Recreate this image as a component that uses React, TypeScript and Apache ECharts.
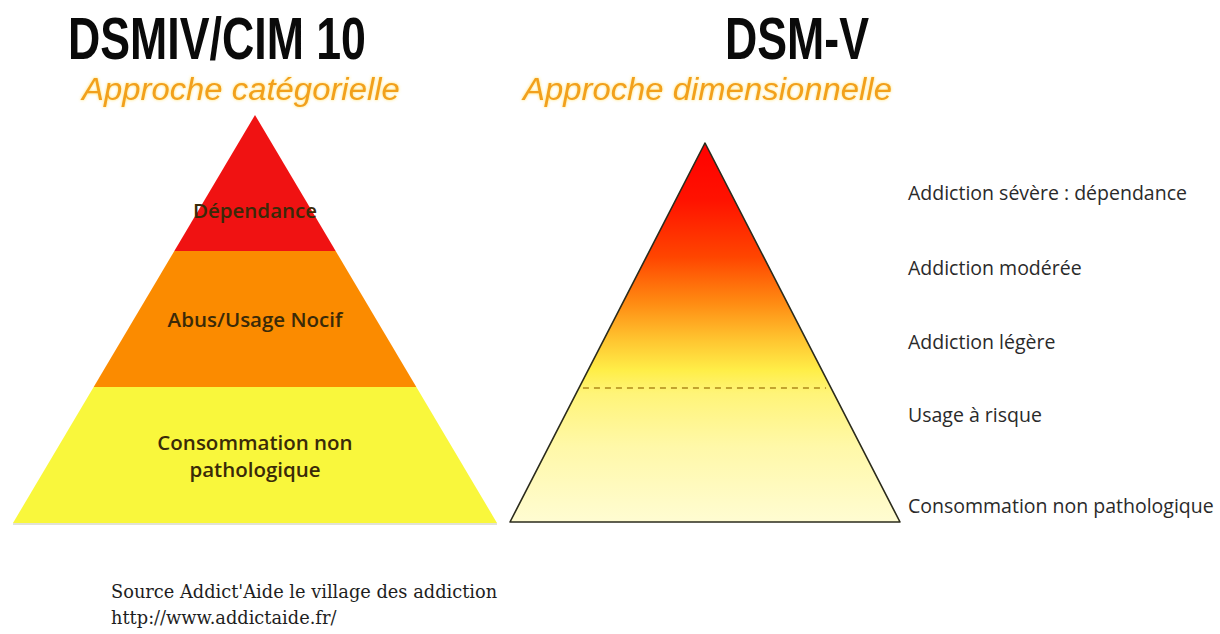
import React, { useEffect, useRef } from "react";
import * as echarts from "echarts";

// ---- data ----
const titles = ["DSMIV/CIM 10", "DSM-V"];
const subtitles = ["Approche catégorielle", "Approche dimensionnelle"];
const leftLevels = ["Dépendance", "Abus/Usage Nocif", "Consommation non\npathologique"];
const leftRanks = [1, 2, 3];
const leftColors = ["#f01212", "#fb8b00", "#f9f73c"];
const rightLevels = [
  "Addiction sévère : dépendance",
  "Addiction modérée",
  "Addiction légère",
  "Usage à risque",
  "Consommation non pathologique",
];
const rightRanks = [1];
const sourceLines = ["Source Addict'Aide le village des addiction", "http://www.addictaide.fr/"];

// ---- layout ----
const LEFT_PYR = { left: 13, top: 115, width: 484, height: 408 };
const RIGHT_PYR = { left: 510, top: 143, width: 390, height: 379 };
const RISK_Y = 388;
const rightLabelX = 908;
const rightLabelY = [192, 267, 341, 414, 505];
const titleX = [68, 725];
const subtitleX = [82, 523];

function txt(text: string, x: number, y: number, extra: any, elExtra: any = {}) {
  return {
    type: "text",
    x,
    y,
    ...elExtra,
    style: {
      text,
      align: "left",
      verticalAlign: "middle",
      textAlign: "left",
      textVerticalAlign: "middle",
      ...extra,
    },
  };
}

export default function App() {
  const ref = useRef<HTMLDivElement>(null);
  useEffect(() => {
    if (!ref.current) return;
    const chart = echarts.init(ref.current, null, { renderer: "svg" });

    // dashed line across the right pyramid at the "usage à risque" threshold
    const frac = (RISK_Y - RIGHT_PYR.top) / RIGHT_PYR.height;
    const half = (RIGHT_PYR.width / 2) * frac;
    const cx = RIGHT_PYR.left + RIGHT_PYR.width / 2;

    const graphics: any[] = [];
    titles.forEach((t, i) =>
      graphics.push(
        txt(t, titleX[i], 38, {
          fontSize: 60,
          fontWeight: "bold",
          fontFamily: "Liberation Sans, Arial, sans-serif",
          fill: "#0a0a0a",
        }, { scaleX: 0.745 })
      )
    );
    subtitles.forEach((t, i) =>
      graphics.push(
        txt(t, subtitleX[i], 89, {
          fontSize: 31,
          fontStyle: "italic",
          fontFamily: "Liberation Sans, Arial, sans-serif",
          fill: "#f2a01c",
          textShadowColor: "rgba(255,215,60,0.8)",
          textShadowBlur: 3,
        }, { scaleX: 1.06 })
      )
    );
    rightLevels.forEach((t, i) =>
      graphics.push(
        txt(t, rightLabelX, rightLabelY[i], {
          fontSize: 19.5,
          fontFamily: "Open Sans, sans-serif",
          fill: "#2a2a2a",
        })
      )
    );
    sourceLines.forEach((t, i) =>
      graphics.push(
        txt(t, 111, 591 + i * 26, {
          fontSize: 17.8,
          fontFamily: "DejaVu Serif, serif",
          fill: "#1e1e1e",
        })
      )
    );
    graphics.push({
      type: "line",
      shape: { x1: cx - half + 4, y1: RISK_Y, x2: cx + half - 5, y2: RISK_Y },
      style: { stroke: "#b08a1a", lineWidth: 1.6, lineDash: [6, 5] },
      z: 10,
    });
    graphics.push({
      type: "line",
      shape: {
        x1: LEFT_PYR.left,
        y1: LEFT_PYR.top + LEFT_PYR.height + 1,
        x2: LEFT_PYR.left + LEFT_PYR.width,
        y2: LEFT_PYR.top + LEFT_PYR.height + 1,
      },
      style: { stroke: "#d8d8c8", lineWidth: 1.5 },
    });

    chart.setOption({
      animation: false,
      backgroundColor: "#ffffff",
      series: [
        {
          type: "funnel",
          sort: "ascending",
          min: 0,
          max: leftRanks.length,
          minSize: "0%",
          maxSize: "100%",
          gap: 0,
          ...LEFT_PYR,
          funnelAlign: "center",
          itemStyle: { borderWidth: 0 },
          label: {
            show: true,
            position: "inside",
            color: "#3a2a08",
            fontSize: 20.5,
            fontWeight: 600,
            fontFamily: "Open Sans, sans-serif",
            lineHeight: 27,
            // the top label sits low in its band: push it down two lines
            formatter: (p: any) => (p.dataIndex === 0 ? "\n\n" + p.name : p.name),
          },
          labelLine: { show: false },
          emphasis: { disabled: true },
          data: leftLevels.map((name, i) => ({
            name,
            value: leftRanks[i],
            itemStyle: { color: leftColors[i] },
          })),
        },
        {
          type: "funnel",
          sort: "ascending",
          min: 0,
          max: 1,
          minSize: "0%",
          maxSize: "100%",
          gap: 0,
          ...RIGHT_PYR,
          funnelAlign: "center",
          label: { show: false },
          labelLine: { show: false },
          emphasis: { disabled: true },
          itemStyle: {
            borderColor: "#2b2b1c",
            borderWidth: 1.6,
            color: new echarts.graphic.LinearGradient(0, 0, 0, 1, [
              { offset: 0, color: "#ff0000" },
              { offset: 0.15, color: "#ff1200" },
              { offset: 0.3, color: "#ff4500" },
              { offset: 0.42, color: "#ff8a12" },
              { offset: 0.52, color: "#ffc530" },
              { offset: 0.6, color: "#ffee48" },
              { offset: 0.66, color: "#fff478" },
              { offset: 0.8, color: "#fff8a8" },
              { offset: 1, color: "#fffcd2" },
            ]),
          },
          data: rightRanks.map((v) => ({ name: "DSM-V", value: v })),
        },
      ],
      graphic: { elements: graphics },
    });
    return () => chart.dispose();
  }, []);
  return (
    <div
      ref={ref}
      style={{ position: "absolute", left: 0, top: 0, width: 1220, height: 634, background: "#fff" }}
    />
  );
}
